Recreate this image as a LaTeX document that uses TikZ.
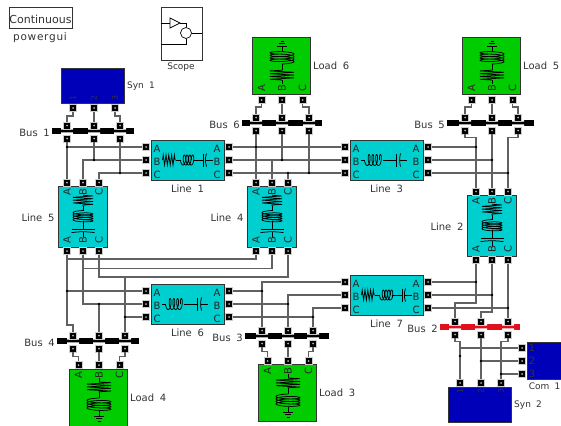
\documentclass[tikz,border=0pt]{standalone}
\usepackage{fontspec}
\setmainfont[WordSpace=1.8]{DejaVu Sans}
\usetikzlibrary{arrows.meta, positioning, decorations.pathmorphing}

\definecolor{linefill}{HTML}{00CFCF}
\definecolor{loadfill}{HTML}{00CC00}
\definecolor{synfill}{HTML}{0000B8}
\definecolor{busred}{HTML}{E0101C}

% coil from (start) along x: start, length, amplitude
\newcommand{\coilplot}[3]{
  \draw[sym] plot[variable=\t, domain=0:1440, samples=120, smooth]
    ({#1+\t/1440*#2-1.8*cos(\t)+1.8}, {#3*sin(\t)});
}
\newcommand{\symamp}{5}

\tikzset{
  blocktext/.style={font=\fontsize{10}{12}\selectfont, text=black!80, inner sep=0pt},
  phase/.style={blocktext, text=black!85},
  block/.style={draw=black!80, line width=.9pt, inner sep=0pt},
  linebox/.style={block, fill=linefill},
  loadbox/.style={block, fill=loadfill, minimum width=58pt, minimum height=57pt},
  synbox/.style={block, fill=synfill},
  port/.style={rectangle, draw=black!20, line width=.7pt, fill=black, minimum size=7pt, inner sep=0pt,
    path picture={\fill[white!70!black] (path picture bounding box.center) circle (1pt);}},
  wire/.style={draw=black!62, line width=1.2pt},
  jdot/.style={circle, fill=black, minimum size=2.8pt, inner sep=0pt},
  busbar/.style={rectangle, inner sep=0pt, minimum height=6pt},
  sym/.style={line width=.75pt, black},
  zig/.style={sym, decorate, decoration={zigzag, segment length=2.8pt, amplitude=#1}},
  zig/.default=5pt,
  rlcsym/.pic={
    \draw[zig=\symamp pt] (-25,0) -- (-12,0);
    \draw[sym] (-12,0) -- (-7,0);
    \coilplot{-7}{11}{\symamp}
    \draw[sym] (5,0) -- (15.5,0) (15.5,-\symamp-1.5) -- (15.5,\symamp+1.5);
    \draw[sym] (19,-\symamp-1.5) .. controls (17.5,-2) and (17.5,2) .. (19,\symamp+1.5);
    \draw[sym] (18,0) -- (25,0);
  },
  lcsym/.pic={
    \draw[sym] (-26,0) -- (-22,0);
    \coilplot{-22}{15}{5.5}
    \draw[sym] (-4,0) -- (10,0) (10,-6.5) -- (10,6.5);
    \draw[sym] (14,-6.5) .. controls (12.8,-2) and (12.8,2) .. (14,6.5);
    \draw[sym] (13.2,0) -- (20,0);
  },
  loadsym/.pic={
    \draw[sym] (0,3) -- (0,7);
    \draw[zig=12pt] (0,7) -- (0,17);
    \draw[sym] (0,17) -- (0,23);
    \begin{scope}[rotate=-90]
      \coilplot{23}{10}{12}
    \end{scope}
    \draw[sym] (0,36) -- (0,41) (-5,41) -- (5,41) (-3,43.5) -- (3,43.5) (-1.5,46) -- (1.5,46);
  },
}

\begin{document}
\begin{tikzpicture}[x=1pt, y=-1pt]
\useasboundingbox (0,0) rectangle (561,425);

% powergui and scope
\node (gui) [block, fill=white, minimum width=63pt, minimum height=21pt] at (40.5,18) {};
\node (guitext) [blocktext, font=\fontsize{11}{12}\selectfont] at (40.5,19) {Continuous};
\node (guiname) [blocktext, font=\fontsize{10.5}{12}\selectfont\addfontfeature{LetterSpace=7}] at (40,38) {powergui};
\node (scope) [block, fill=white, minimum width=41pt, minimum height=53pt] at (181.5,33.5) {};
\node (scopename) [blocktext, font=\fontsize{9}{11}\selectfont] at (181,67) {Scope};
\node (scopesum) [circle, draw, line width=.7pt, minimum size=11pt, inner sep=0pt] at (186,33) {};
\draw[line width=.7pt] (170,18) -- (180,23) -- (170,28) -- cycle;
\draw[line width=.7pt] (scope.west |- 0,23) -- (170,23) (180,23) -| (scopesum.north);
\draw[line width=.7pt] (scopesum.east) -- (scope.east |- scopesum);
\draw[line width=.7pt] (scopesum.south) |- (scope.west |- 0,44);

% lines, lying
\foreach \n/\x/\y/\s in {1/187.5/160/rlcsym, 3/386.5/160/lcsym, 6/187.5/304/lcsym, 7/386.5/295/rlcsym} {
  \node (line\n) [linebox, minimum width=73pt, minimum height=40pt] at (\x,\y) {};
  \pic at (\x,\y) {\s};
  \node (line\n name) [blocktext] at (\x,\y+29) {Line \n};
  \foreach \ph/\dy in {A/-13,B/0,C/13} {
    \node (l\n\ph l) [port] at (\x-41.5,\y+\dy) {};
    \node (l\n\ph r) [port] at (\x+41.5,\y+\dy) {};
    \node (l\n\ph lt) [phase] at (\x-30.5,\y+\dy+1.5) {\ph};
    \node (l\n\ph rt) [phase] at (\x+29.5,\y+\dy+1.5) {\ph};
  }
}

% lines, standing
\foreach \n/\x/\y in {5/83/216.5, 4/272/216.5, 2/492/225.5} {
  \renewcommand{\symamp}{10}
  \node (line\n) [linebox, minimum width=49pt, minimum height=61pt] at (\x-.5,\y) {};
  \pic[rotate=-90, xscale=.85] at (\x,\y) {rlcsym};
  \node (line\n name) [blocktext] at (\x-45,\y+1.5) {Line \n};
  \foreach \ph/\dx in {A/-16,B/0,C/16} {
    \node (l\n\ph t) [port] at (\x+\dx,\y-34) {};
    \node (l\n\ph b) [port] at (\x+\dx,\y+34.5) {};
    \node (l\n\ph tt) [phase, rotate=90] at (\x+\dx,\y-24) {\ph};
    \node (l\n\ph bt) [phase, rotate=90] at (\x+\dx,\y+24) {\ph};
  }
}

% loads
\foreach \n/\x/\y/\py/\ly/\oy/\r in {6/282/65.5/100/88/87/180, 5/492/65.5/100/88/87/180, 4/99/397.5/365/375/375/0, 3/288/392.5/361/371/371/0} {
  \node (load\n) [loadbox] at (\x-1,\y) {};
  \pic[rotate=\r] at (\x,\oy) {loadsym};
  \node (load\n name) [blocktext, anchor=west] at (\x+31,\y+.5) {Load \n};
  \foreach \ph/\dx in {A/-20.5,B/0,C/20.5} {
    \node (d\n\ph) [port] at (\x+\dx,\py) {};
    \node (d\n\ph t) [phase, rotate=90] at (\x+\dx,\ly) {\ph};
  }
}

% buses
\foreach \n/\xa/\xb/\y/\pa/\pb/\pc/\col in {1/52/134/131/67/94/120/black, 6/242/322/123/256/282/309/black, 5/447/534/123/465/492/518/black, 4/57/139/341/73/99/125/black, 3/245/329/336/262/288/313/black, 2/440/520/327/455/481/508/busred} {
  \node (bus\n) [busbar, fill=\col, minimum width={(\xb-\xa)*1pt}] at ({(\xa+\xb)/2},\y) {};
  \node (bus\n name) [blocktext, anchor=east] at (\xa-2,\y+2) {Bus \n};
  \foreach \ph/\px in {A/\pa,B/\pb,C/\pc} {
    \fill[white] (\px-6,\y-3.2) rectangle (\px+6,\y-1.4) (\px-6,\y+1.4) rectangle (\px+6,\y+3.2);
    \node (b\n\ph t) [port] at (\px,\y-5.5) {};
    \node (b\n\ph b) [port] at (\px,\y+7.5) {};
  }
}

% machines
\node (syn1) [synbox, minimum width=63pt, minimum height=35pt] at (92.5,85.5) {};
\node (syn1name) [blocktext, anchor=west, font=\fontsize{9}{11}\selectfont] at (127,86) {Syn 1};
\foreach \i/\px in {1/73,2/94,3/115} {
  \node (s1\i) [port] at (\px,108) {};
  \node (s1\i t) [blocktext, rotate=90, font=\fontsize{8}{10}\selectfont] at (\px,98) {\i};
}
\node (syn2) [synbox, minimum width=63pt, minimum height=35pt] at (479.5,404.5) {};
\node (syn2name) [blocktext, anchor=west, font=\fontsize{9}{11}\selectfont] at (514,405) {Syn 2};
\foreach \i/\px in {1/460,2/481,3/501} {
  \node (s2\i) [port] at (\px,383) {};
  \node (s2\i t) [blocktext, rotate=90, font=\fontsize{8}{10}\selectfont] at (\px,391) {\i};
}
\node (com) [synbox, minimum width=50pt, minimum height=37pt] at (552,360.5) {};
\node (comname) [blocktext, anchor=east, font=\fontsize{9}{11}\selectfont] at (560.5,386) {Com 1};
\foreach \i/\py in {1/348,2/361,3/374} {
  \node (c\i) [port] at (522,\py) {};
  \node (c\i t) [blocktext] at (532,\py) {\i};
}

% bus 1 and line 1
\draw[wire] (s11) -- ++(0,8) -| (b1At);
\draw[wire] (s12) -- (b1Bt);
\draw[wire] (s13) -- ++(0,8) -| (b1Ct);
\draw[wire] (b1Ab) -- (l5At);
\draw[wire] (b1Bb) -- (b1Bb |- l1Bl);
\draw[wire] (b1Cb) -- (b1Cb |- l1Cl);
\draw[wire] (l1Al) -- (l5At |- l1Al);
\draw[wire] (l1Bl) -| (l5Bt);
\draw[wire] (l1Cl) -| (l5Ct);

% bus 6 and lines 1, 3, 4
\draw[wire] (d6A) -- ++(0,7) -| (b6At);
\draw[wire] (d6B) -- (b6Bt);
\draw[wire] (d6C) -- ++(0,7) -| (b6Ct);
\draw[wire] (l1Ar) -- (l3Al);
\draw[wire] (l1Br) -- (l3Bl);
\draw[wire] (l1Cr) -- (l3Cl);
\draw[wire] (b6Ab) -- (l4At);
\draw[wire] (b6Bb) -- (b6Bb |- l1Br);
\draw[wire] (b6Cb) -- (b6Cb |- l1Cr);
\draw[wire] (l4Bt) -- (l4Bt |- l1Br);
\draw[wire] (l4Ct) -- (l4Ct |- l1Cr);

% bus 5 and line 2
\draw[wire] (d5A) -- ++(0,7) -| (b5At);
\draw[wire] (d5B) -- (b5Bt);
\draw[wire] (d5C) -- ++(0,7) -| (b5Ct);
\draw[wire] (b5Ab) -- ++(0,7) -| (l2At);
\draw[wire] (b5Bb) -- (l2Bt);
\draw[wire] (b5Cb) -- ++(0,7) -| (l2Ct);
\draw[wire] (l3Ar) -- (l2At |- l3Ar);
\draw[wire] (l3Br) -- (l2Bt |- l3Br);
\draw[wire] (l3Cr) -- (l2Ct |- l3Cr);

% lines 5, 4, 6 and bus 4
\draw[wire] (l5Ab) -- ++(0,8) -| (l4Ab);
\draw[wire] (l5Bb) -- ++(0,17.5) -| (l4Bb);
\draw[wire] (l5Cb) -- ++(0,26) -| (l4Cb);
\draw[wire] (l5Ab) -- ++(0,74) -| (b4At);
\draw[wire] (l6Al) -- (l5Ab |- l6Al);
\draw[wire] (l5Bb) |- (l6Bl);
\draw[wire] (b4Bt) -- (b4Bt |- l6Bl);
\draw[wire] (l6Cl) -- (b4Ct |- l6Cl);
\draw[wire] (b4Ct) -- ++(0,-58.5);
\draw[wire] (b4Ab) -- ++(0,8) -| (d4A);
\draw[wire] (b4Bb) -- (d4B);
\draw[wire] (b4Cb) -- ++(0,8) -| (d4C);

% line 6, bus 3 and line 7
\draw[wire] (l6Ar) -- (b3At |- l6Ar);
\draw[wire] (l6Br) -- (b3Bt |- l6Br);
\draw[wire] (l6Cr) -- (b3Ct |- l6Cr);
\draw[wire] (b3At) |- (l7Al);
\draw[wire] (b3Bt) |- (l7Bl);
\draw[wire] (b3Ct) |- (l7Cl);
\draw[wire] (b3Ab) -- ++(0,8) -| (d3A);
\draw[wire] (b3Bb) -- (d3B);
\draw[wire] (b3Cb) -- ++(0,8) -| (d3C);

% line 7, bus 2 and the machines
\draw[wire] (l7Ar) -- (l2Ab |- l7Ar);
\draw[wire] (l7Br) -- (l2Bb |- l7Br);
\draw[wire] (l7Cr) -- (l2Cb |- l7Cr);
\draw[wire] (l2Ab) -- ++(0,43) -| (b2At);
\draw[wire] (l2Bb) -- ++(0,52) -| (b2Bt);
\draw[wire] (l2Cb) -- (b2Ct);
\draw[wire] (b2Ab) -- ++(0,7) -| (s21);
\draw[wire] (b2Bb) -- (s22);
\draw[wire] (b2Cb) -- ++(0,7) -| (s23);
\draw[wire] (c1) -- (s21 |- c1);
\draw[wire] (c2) -- (s22 |- c2);
\draw[wire] (c3) -- (s23 |- c3);

% junctions
\foreach \a/\b [count=\i] in {b1Bb/l1Bl, b1Cb/l1Cl, l5At/l1Al, l4At/l1Ar, b6Bb/l1Br, b6Cb/l1Cr, l4Ct/l1Cr,
    l2At/l3Ar, l2Bt/l3Br, l2Ct/l3Cr, l5Ab/l6Al, b4Bt/l6Bl, b4Ct/l6Cl, b3At/l6Ar, b3Bt/l6Br, b3Ct/l6Cr,
    l2Ab/l7Ar, l2Bb/l7Br, l2Cb/l7Cr, s22/c2, s23/c3}
  \node (dot\i) [jdot] at (\a |- \b) {};
\node (dotsyn) [jdot] at ([yshift=27pt]s21.center) {};
\end{tikzpicture}
\end{document}
